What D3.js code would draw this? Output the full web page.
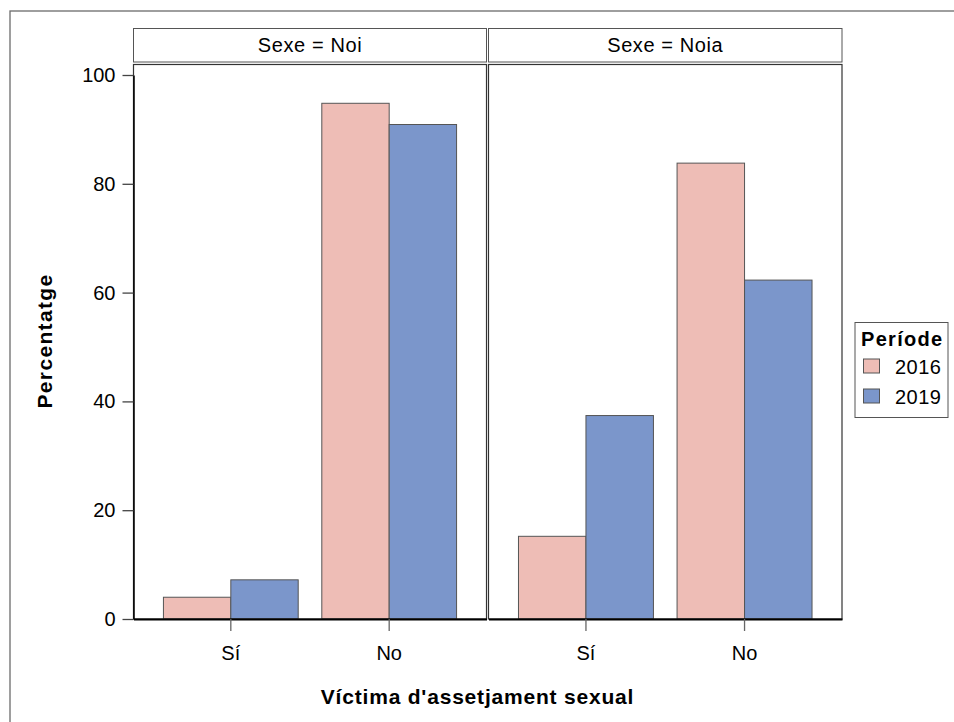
<!DOCTYPE html>
<html><head><meta charset="utf-8">
<script src="https://cdn.jsdelivr.net/npm/d3@7"></script>
<style>body{margin:0;background:#fff}svg{display:block}text{font-family:"Liberation Sans",Arial,sans-serif}</style>
</head><body><svg id="c" width="954" height="722"></svg>
<script>
const sexes = ["Noi", "Noia"];
const categories = ["Sí", "No"];
const periods = ["2016", "2019"];
const values2016 = { "Noi": [4.0, 94.8], "Noia": [15.2, 83.8] };
const values2019 = { "Noi": [7.2, 90.9], "Noia": [37.4, 62.3] };
const yTicks = [0, 20, 40, 60, 80, 100];
const colors = ["#EEBDB6", "#7B96CB"];

const svg = d3.select("#c");
const panelTop = 64.5, panelBottom = 619;
const panels = [{x0: 133.5, x1: 486.5}, {x0: 488.5, x1: 842}];
const y = d3.scaleLinear().domain([0, 100]).range([panelBottom, 75]);
const color = d3.scaleOrdinal().domain(periods).range(colors);

// outer frame
svg.append("rect").attr("x", 10).attr("y", 11).attr("width", 1000).attr("height", 1000)
  .attr("fill", "none").attr("stroke", "#6b6b6b").attr("stroke-width", 1.3);

sexes.forEach((s, i) => {
  const p = panels[i];
  const x = d3.scaleBand().domain(categories).range([p.x0, p.x1]).paddingInner(0.149).paddingOuter(0.189);
  const xs = d3.scaleBand().domain(periods).range([0, x.bandwidth()]);
  const g = svg.append("g");
  // strip
  g.append("rect").attr("x", p.x0).attr("y", 28.5).attr("width", p.x1 - p.x0).attr("height", 33.5)
    .attr("fill", "#fff").attr("stroke", "#555").attr("stroke-width", 1);
  g.append("text").attr("x", (p.x0 + p.x1) / 2).attr("y", 51.5).attr("text-anchor", "middle")
    .attr("font-size", 20).attr("letter-spacing", 0.6).attr("fill", "#000").text("Sexe = " + s);
  // bars
  const rows = [];
  categories.forEach((c, ci) => {
    rows.push({c, p: periods[0], v: values2016[s][ci]});
    rows.push({c, p: periods[1], v: values2019[s][ci]});
  });
  g.selectAll("rect.bar").data(rows).join("rect").attr("class", "bar")
    .attr("x", d => x(d.c) + xs(d.p)).attr("width", xs.bandwidth())
    .attr("y", d => y(d.v)).attr("height", d => y(0) - y(d.v))
    .attr("fill", d => color(d.p)).attr("stroke", "#555").attr("stroke-width", 1);
  // panel frame
  g.append("rect").attr("x", p.x0).attr("y", panelTop).attr("width", p.x1 - p.x0).attr("height", panelBottom - panelTop)
    .attr("fill", "none").attr("stroke", "#333").attr("stroke-width", 1.2);
  // x axis
  const ax = g.append("g").attr("transform", `translate(0,${panelBottom})`)
    .call(d3.axisBottom(x).tickSize(12).tickPadding(15).tickSizeOuter(0));
  ax.select(".domain").attr("stroke", "#000").attr("stroke-width", 2);
  ax.selectAll(".tick line").attr("stroke", "#666").attr("stroke-width", 1.3);
  ax.selectAll(".tick text").attr("font-size", 20).attr("fill", "#000")
    .attr("font-family", '"Liberation Sans",Arial,sans-serif');
});

// y axis
const ay = svg.append("g").attr("transform", `translate(${panels[0].x0},0)`)
  .call(d3.axisLeft(y).tickValues(yTicks).tickSize(11).tickPadding(7).tickSizeOuter(0));
ay.select(".domain").attr("stroke", "#000").attr("stroke-width", 1.5);
ay.selectAll(".tick line").attr("stroke", "#444").attr("stroke-width", 1.3);
ay.selectAll(".tick text").attr("font-size", 20).attr("fill", "#000")
  .attr("font-family", '"Liberation Sans",Arial,sans-serif');

// axis titles
svg.append("text").attr("x", 477.5).attr("y", 704).attr("text-anchor", "middle")
  .attr("font-size", 21).attr("font-weight", "bold").attr("letter-spacing", 0.8)
  .text("Víctima d'assetjament sexual");
svg.append("text").attr("transform", "translate(52,341) rotate(-90)").attr("text-anchor", "middle")
  .attr("font-size", 21).attr("font-weight", "bold").attr("letter-spacing", 1.35)
  .text("Percentatge");

// legend
const lg = svg.append("g");
lg.append("rect").attr("x", 855).attr("y", 322.5).attr("width", 93).attr("height", 95)
  .attr("fill", "#fff").attr("stroke", "#555").attr("stroke-width", 1);
lg.append("text").attr("x", 861).attr("y", 346).attr("font-size", 20).attr("font-weight", "bold")
  .attr("letter-spacing", 1.3).text("Període");
periods.forEach((pp, i) => {
  const yy = 359 + i * 30;
  lg.append("rect").attr("x", 863.5).attr("y", yy).attr("width", 16).attr("height", 14)
    .attr("fill", color(pp)).attr("stroke", "#555").attr("stroke-width", 1);
  lg.append("text").attr("x", 895).attr("y", yy + 15).attr("font-size", 20).attr("letter-spacing", 0.5).text(pp);
});
</script></body></html>
